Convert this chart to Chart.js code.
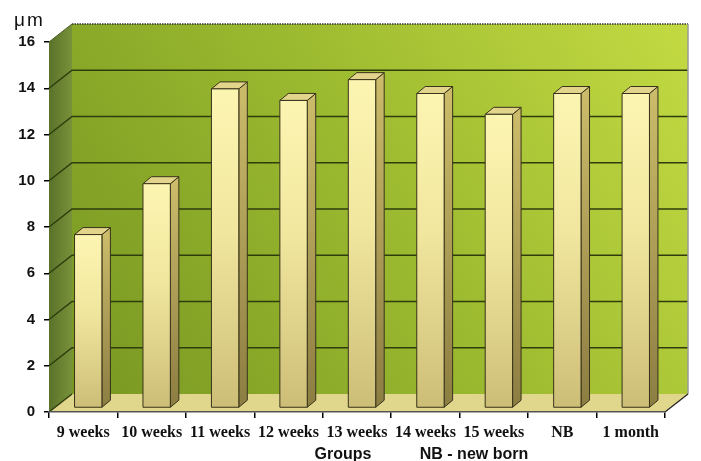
<!DOCTYPE html>
<html>
<head>
<meta charset="utf-8">
<script src="https://cdn.jsdelivr.net/npm/chart.js@4"></script>
<style>
  html, body { margin: 0; padding: 0; background: #ffffff; }
  canvas { display: block; }
</style>
</head>
<body>
<canvas id="chart" width="701" height="461"></canvas>
<script>
// Group names along the horizontal axis
const categories = ['9 weeks', '10 weeks', '11 weeks', '12 weeks', '13 weeks', '14 weeks', '15 weeks', 'NB', '1 month'];
// Mean thickness per group (µm)
const thickness = [7.5, 9.7, 13.8, 13.3, 14.2, 13.6, 12.7, 13.6, 13.6];
// Vertical axis range and step
const yMin = 0;
const yMax = 16;
const yStep = 2;

// Depth of the box behind the front plane, and of each bar
const WALL = { dx: 23, dy: -18 };
const BAR_SHIFT = { dx: 5, dy: -4 };
const BAR_DEPTH = { dx: 8.5, dy: -7 };

const boxPlugin = {
  id: 'box3d',
  beforeDraw(chart) {
    const { ctx, chartArea: { left, right, top, bottom }, scales: { y } } = chart;
    const dx = WALL.dx, dy = WALL.dy;
    ctx.save();

    // back wall
    const bg = ctx.createLinearGradient(left + dx, bottom + dy, right + dx, top + dy);
    bg.addColorStop(0, '#779722');
    bg.addColorStop(0.5, '#9bb92f');
    bg.addColorStop(1, '#c3da42');
    ctx.fillStyle = bg;
    ctx.fillRect(left + dx, top + dy, right - left, bottom - top);

    // left side wall
    const lg = ctx.createLinearGradient(left, 0, left + dx, 0);
    lg.addColorStop(0, '#5a7229');
    lg.addColorStop(1, '#78913a');
    ctx.fillStyle = lg;
    ctx.beginPath();
    ctx.moveTo(left, bottom);
    ctx.lineTo(left + dx, bottom + dy);
    ctx.lineTo(left + dx, top + dy);
    ctx.lineTo(left, top);
    ctx.closePath();
    ctx.fill();

    // floor
    ctx.fillStyle = '#e0d78d';
    ctx.beginPath();
    ctx.moveTo(left, bottom);
    ctx.lineTo(right, bottom);
    ctx.lineTo(right + dx, bottom + dy);
    ctx.lineTo(left + dx, bottom + dy);
    ctx.closePath();
    ctx.fill();

    // gridlines: slanted on the side wall, level on the back wall
    ctx.strokeStyle = '#2f3c0c';
    ctx.lineWidth = 1.5;
    y.ticks.forEach(t => {
      const py = y.getPixelForValue(t.value);
      if (t.value === yMax) return;
      ctx.beginPath();
      ctx.moveTo(left, py);
      ctx.lineTo(left + dx, py + dy);
      if (t.value !== yMin) ctx.lineTo(right + dx, py + dy);
      ctx.stroke();
    });

    // top edge of the box
    ctx.strokeStyle = '#333';
    ctx.lineWidth = 1.5;
    ctx.setLineDash([1.5, 1]);
    ctx.beginPath();
    ctx.moveTo(left + dx, top + dy);
    ctx.lineTo(right + dx, top + dy);
    ctx.stroke();
    ctx.setLineDash([]);
    ctx.strokeStyle = '#4a5a1c';
    ctx.lineWidth = 1;
    ctx.beginPath();
    ctx.moveTo(left, top);
    ctx.lineTo(left + dx, top + dy);
    ctx.stroke();

    // right edge of the back wall
    ctx.strokeStyle = '#9a9a9a';
    ctx.lineWidth = 1.5;
    ctx.beginPath();
    ctx.moveTo(right + dx, top + dy);
    ctx.lineTo(right + dx, bottom + dy);
    ctx.stroke();

    // right edge of the floor
    ctx.strokeStyle = '#222';
    ctx.lineWidth = 1.2;
    ctx.beginPath();
    ctx.moveTo(right, bottom);
    ctx.lineTo(right + dx, bottom + dy);
    ctx.stroke();

    // unit label and axis captions
    ctx.fillStyle = '#111';
    ctx.textBaseline = 'alphabetic';
    ctx.textAlign = 'left';
    ctx.font = '19px "Liberation Sans", Arial, sans-serif';
    ctx.letterSpacing = '2px';
    ctx.fillText('μm', 14, 26);
    ctx.letterSpacing = '0px';
    ctx.font = 'bold 16px "Liberation Sans", Arial, sans-serif';
    ctx.textAlign = 'center';
    ctx.fillText('Groups', 343, 459);
    ctx.fillText('NB - new born', 474, 459);
    ctx.restore();
  },
  afterDatasetsDraw(chart) {
    const { ctx } = chart;
    const meta = chart.getDatasetMeta(0);
    ctx.save();
    ctx.lineWidth = 1;
    ctx.strokeStyle = '#38331a';
    ctx.lineJoin = 'round';
    meta.data.forEach(el => {
      const p = el.getProps(['x', 'y', 'base', 'width'], true);
      const x0 = p.x - p.width / 2 + BAR_SHIFT.dx;
      const x1 = p.x + p.width / 2 + BAR_SHIFT.dx;
      const yt = p.y + BAR_SHIFT.dy;
      const yb = p.base + BAR_SHIFT.dy;
      const ddx = BAR_DEPTH.dx, ddy = BAR_DEPTH.dy;

      // side face
      const sg = ctx.createLinearGradient(0, yt, 0, yb);
      sg.addColorStop(0, '#cbbb6a');
      sg.addColorStop(1, '#8c7d42');
      ctx.fillStyle = sg;
      ctx.beginPath();
      ctx.moveTo(x1, yt);
      ctx.lineTo(x1 + ddx, yt + ddy);
      ctx.lineTo(x1 + ddx, yb + ddy);
      ctx.lineTo(x1, yb);
      ctx.closePath();
      ctx.fill();
      ctx.stroke();

      // top face
      ctx.fillStyle = '#e2d58b';
      ctx.beginPath();
      ctx.moveTo(x0, yt);
      ctx.lineTo(x0 + ddx, yt + ddy);
      ctx.lineTo(x1 + ddx, yt + ddy);
      ctx.lineTo(x1, yt);
      ctx.closePath();
      ctx.fill();
      ctx.stroke();

      // front face
      const fg = ctx.createLinearGradient(0, yt, 0, yb);
      fg.addColorStop(0, '#fcf5b2');
      fg.addColorStop(0.45, '#f1e69e');
      fg.addColorStop(1, '#cdbe77');
      ctx.fillStyle = fg;
      ctx.fillRect(x0, yt, x1 - x0, yb - yt);
      ctx.strokeRect(x0, yt, x1 - x0, yb - yt);
    });
    ctx.restore();
  }
};

new Chart(document.getElementById('chart'), {
  type: 'bar',
  data: {
    labels: categories,
    datasets: [{
      data: thickness,
      backgroundColor: 'rgba(0,0,0,0)',
      borderWidth: 0,
      barPercentage: 0.4,
      categoryPercentage: 1.0
    }]
  },
  options: {
    responsive: false,
    animation: false,
    events: [],
    layout: { padding: { top: 42, right: 36, left: 0, bottom: 0 } },
    plugins: {
      legend: { display: false },
      tooltip: { enabled: false },
      title: { display: false }
    },
    scales: {
      x: {
        afterFit(scale) { scale.height = 49; },
        grid: {
          offset: true,
          drawOnChartArea: false,
          drawTicks: true,
          tickLength: 6,
          color: '#000',
          lineWidth: 1.5
        },
        border: { display: true, color: '#555', width: 1.5, dash: [1.5, 1] },
        ticks: {
          autoSkip: false,
          maxRotation: 0,
          minRotation: 0,
          padding: 5,
          color: '#111',
          font: { family: '"Liberation Serif", "Times New Roman", serif', size: 16, weight: 'bold' }
        }
      },
      y: {
        min: yMin,
        max: yMax,
        afterFit(scale) { scale.width = 49; },
        grid: {
          drawOnChartArea: false,
          drawTicks: true,
          tickLength: 5,
          color: '#000',
          lineWidth: 1.5
        },
        border: { display: false },
        ticks: {
          stepSize: yStep,
          padding: 9,
          color: '#111',
          font: { family: '"Liberation Sans", Arial, sans-serif', size: 15, weight: 'bold' }
        }
      }
    }
  },
  plugins: [boxPlugin]
});
</script>
</body>
</html>
